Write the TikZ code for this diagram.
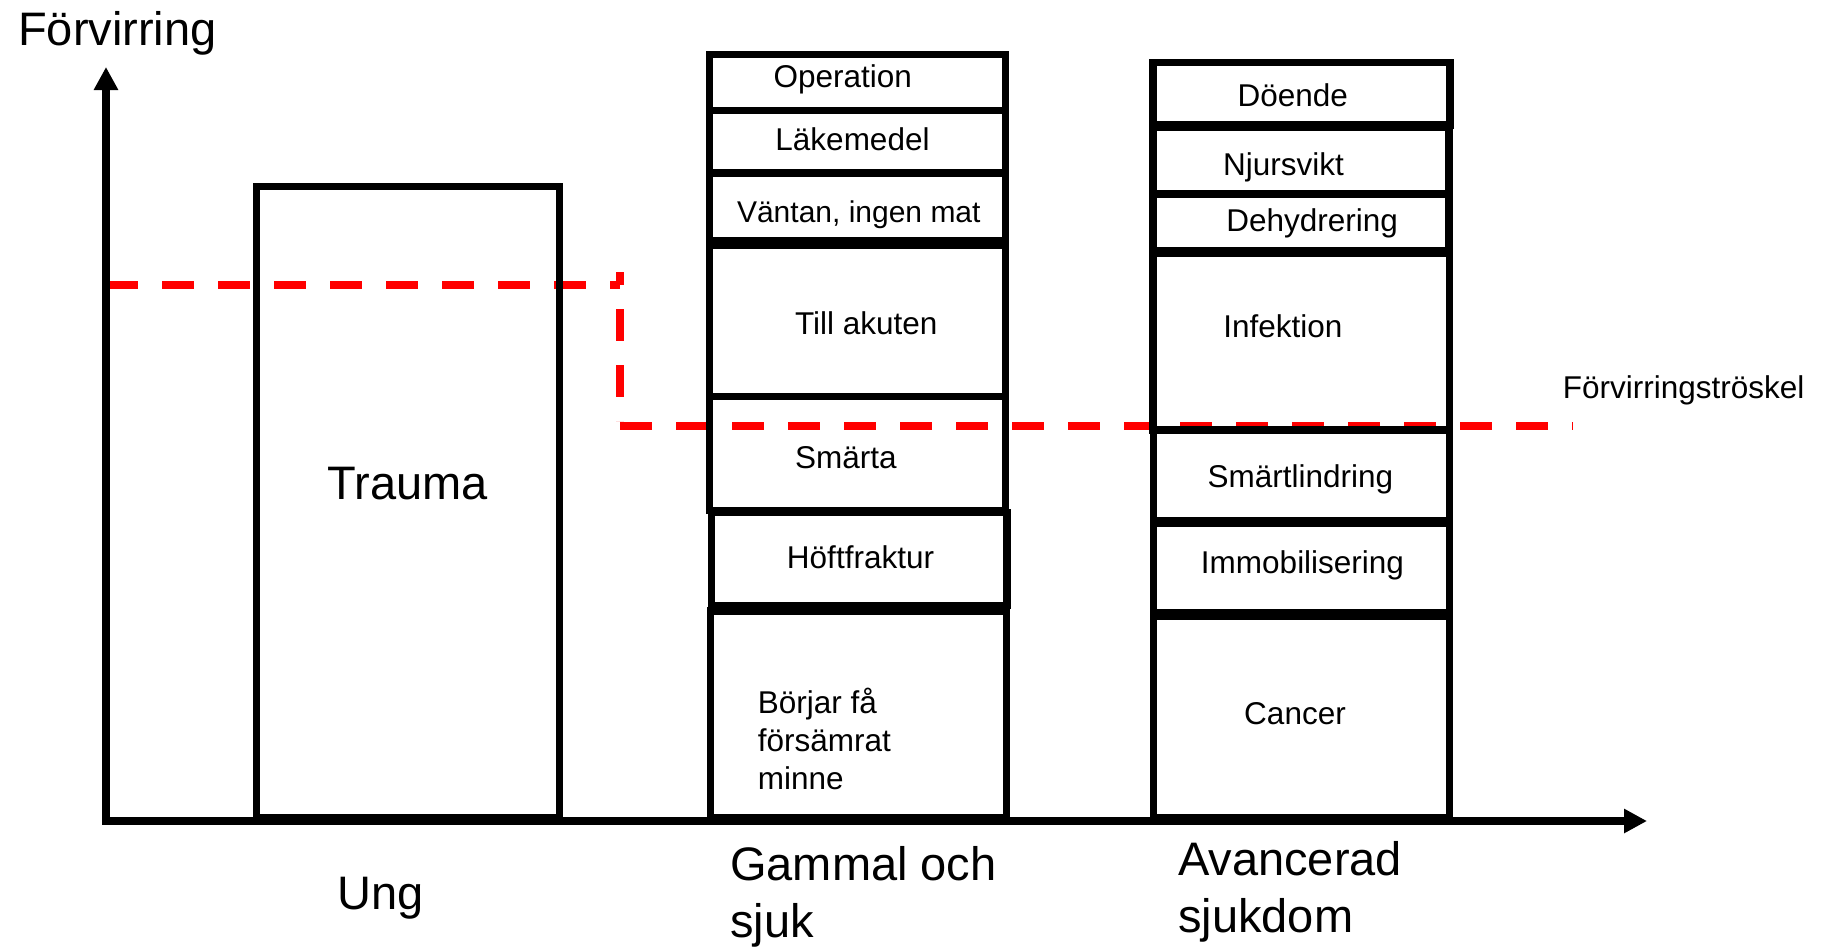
\documentclass[tikz,border=0pt]{standalone}
\usepackage{fontspec}
\setmainfont{Liberation Sans}
\usetikzlibrary{arrows.meta}
\begin{document}
\begin{tikzpicture}[x=1pt,y=-1pt,
  box/.style={draw=black,line width=7.5pt},
  axis/.style={line width=8pt,{Triangle[length=23pt,width=23pt]}-{Triangle[length=23pt,width=23pt]}},
  thresh/.style={draw=red,line width=8pt,dash pattern=on 32pt off 24pt},
  big/.style={font=\fontsize{47}{57}\selectfont,inner sep=0pt},
  small/.style={font=\fontsize{31.5}{38.3}\selectfont,inner sep=0pt},
]
\useasboundingbox (0,0) rectangle (1822,948);

% threshold line (drawn first, boxes on top)
\coordinate (t1) at (106,285);
\coordinate (t2) at (620,285);
\coordinate (t3) at (620,272);
\coordinate (t4) at (620,421);
\coordinate (t5) at (620,426);
\coordinate (t6) at (1573,426);
\draw[thresh] (t1) -- (t2);
\draw[thresh,dash phase=19pt] (t3) -- (t4);
\draw[thresh] (t5) -- (t6);

% axes
\coordinate (ytip) at (106,67);
\coordinate (O) at (106,821);
\coordinate (xtip) at (1647,821);
\draw[axis] (ytip) -- (O) -- (xtip);

% Ung
\draw[box] (256.3,186.3) rectangle (559.5,818);

% Gammal och sjuk
\draw[box] (709.7,54.5) rectangle (1005.5,110.5);
\draw[box] (709.7,110.5) rectangle (1005.5,173);
\draw[box] (709.7,173) rectangle (1005.5,240.5);
\draw[box] (709.7,245.5) rectangle (1005.5,396.7);
\draw[box] (709.7,396.7) rectangle (1005.5,510.5);
\draw[box] (711.7,512.5) rectangle (1007.2,605.5);
\draw[box] (710.3,611) rectangle (1006.3,818);

% Avancerad sjukdom
\draw[box] (1153,62.5) rectangle (1450,125);
\draw[box] (1153,127) rectangle (1449,194);
\draw[box] (1153,194) rectangle (1449,251);
\draw[box] (1153,253) rectangle (1449.5,430);
\draw[box] (1153.7,430) rectangle (1449.5,521);
\draw[box] (1153.7,523) rectangle (1449.5,613);
\draw[box] (1153.7,616) rectangle (1449.5,818);

% small labels
\node[small,anchor=base] (op) at (842.8,87.5) {Operation};
\node[small,anchor=base] (lak) at (852.5,150) {Läkemedel};
\node[small,anchor=base,font=\fontsize{30}{36}\selectfont] (vant) at (858.8,222.5) {Väntan, ingen mat};
\node[small,anchor=base] (till) at (866.3,334.5) {Till akuten};
\node[small,anchor=base] (smar) at (845.8,468) {Smärta};
\node[small,anchor=base] (hoft) at (860.5,568.5) {Höftfraktur};
\node[small,anchor=base west] (borj) at (757.7,713) {\begin{tabular}[t]{@{}l@{}}Börjar få\\försämrat\\minne\end{tabular}};
\node[small,anchor=base] (doe) at (1292.8,106.5) {Döende};
\node[small,anchor=base] (njur) at (1283.5,175.5) {Njursvikt};
\node[small,anchor=base] (dehy) at (1312.2,231.5) {Dehydrering};
\node[small,anchor=base] (inf) at (1282.8,337.5) {Infektion};
\node[small,anchor=base] (smartl) at (1300.3,487.5) {Smärtlindring};
\node[small,anchor=base] (immob) at (1302.5,573.5) {Immobilisering};
\node[small,anchor=base] (canc) at (1295,724.5) {Cancer};
\node[small,anchor=base west] (thr) at (1562.7,398) {Förvirringströskel};

% big labels
\node[big,anchor=base west] (ylab) at (18,45.5) {Förvirring};
\node[big,anchor=base] (trauma) at (408,499.5) {Trauma};
\node[big,anchor=base] (ung) at (381,909.5) {Ung};
\node[big,anchor=base west] (gammal) at (730,880.5) {\begin{tabular}[t]{@{}l@{}}Gammal och\\sjuk\end{tabular}};
\node[big,anchor=base west] (avanc) at (1178,875.5) {\begin{tabular}[t]{@{}l@{}}Avancerad\\sjukdom\end{tabular}};
\end{tikzpicture}
\end{document}
